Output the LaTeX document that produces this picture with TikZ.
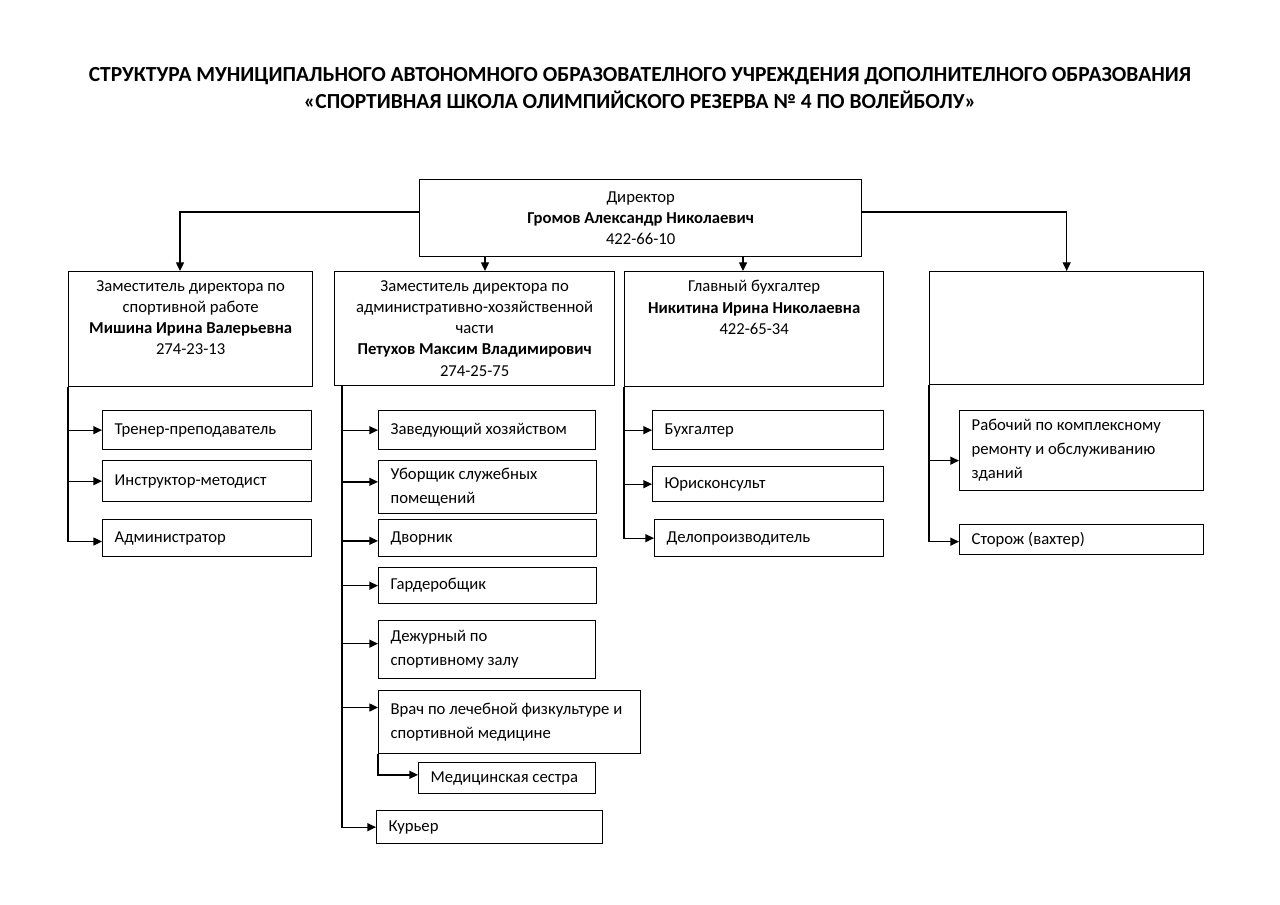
\documentclass[tikz,border=0pt]{standalone}
\usepackage{fontspec}
\setmainfont{Carlito}
\usetikzlibrary{arrows.meta}
\tikzset{
    every node/.style={font=\fontsize{12.5}{15.5}\selectfont}
}
\tikzset{
    headbox/.style={draw, line width=1pt, anchor=north west, inner sep=0pt},
    headtext/.style={anchor=north, align=center, inner sep=0pt, yshift=-7pt,
        font=\fontsize{12.5}{15.9}\selectfont},
    staffbox/.style={draw, line width=1pt, anchor=north west, align=flush left,
        inner xsep=9pt, inner ysep=0pt,
        font=\fontsize{12.5}{18}\selectfont},
    arr/.style={line width=1pt, -{Triangle[length=6.5pt,width=6pt]}}
}

\begin{document}
\begin{tikzpicture}[x=0.75pt, y=-0.75pt]
  \useasboundingbox (0,0) rectangle (1280,905);

  \node (title) [align=center, font=\fontsize{16.1}{20.3}\selectfont\bfseries] at (640, 88)
    {СТРУКТУРА МУНИЦИПАЛЬНОГО АВТОНОМНОГО ОБРАЗОВАТЕЛНОГО УЧРЕЖДЕНИЯ ДОПОЛНИТЕЛНОГО ОБРАЗОВАНИЯ\\
     «СПОРТИВНАЯ ШКОЛА ОЛИМПИЙСКОГО РЕЗЕРВА № 4 ПО ВОЛЕЙБОЛУ»};

  % director and deputies
  \node (dir) [draw, line width=1pt, anchor=north west, align=center,
    minimum width=331.5pt, minimum height=57.75pt] at (419, 179)
    {Директор\\\textbf{Громов Александр Николаевич}\\422-66-10};
  \node (zam1) [headbox, minimum width=183pt, minimum height=86.25pt,
    label={[headtext]north:{Заместитель директора по\\спортивной работе\\
    \textbf{Мишина Ирина Валерьевна}\\274-23-13}}] at (68, 271) {};
  \node (zam2) [headbox, minimum width=210pt, minimum height=85.5pt,
    label={[headtext]north:{Заместитель директора по\\административно-хозяйственной\\
    части\\\textbf{Петухов Максим Владимирович}\\274-25-75}}] at (334, 271) {};
  \node (zam3) [headbox, minimum width=194.25pt, minimum height=86.25pt,
    label={[headtext]north:{Главный бухгалтер\\
    \textbf{Никитина Ирина Николаевна}\\422-65-34}}] at (624, 271) {};
  \node (zam4) [headbox, minimum width=205.5pt, minimum height=84.75pt] at (929, 271) {};

  % staff
  \node (trener) [staffbox, text width=138.75pt, minimum height=29.25pt] at (102, 410) {Тренер-преподаватель};
  \node (instr) [staffbox, text width=138.75pt, minimum height=30.75pt] at (102, 460) {Инструктор-методист};
  \node (admin) [staffbox, text width=138.75pt, minimum height=27.75pt] at (102, 519) {Администратор};

  \node (zavhoz) [staffbox, text width=144.75pt, minimum height=29.25pt] at (378, 410) {Заведующий хозяйством};
  \node (uborsh) [staffbox, text width=145.5pt, minimum height=39.75pt] at (378, 460) {Уборщик служебных\\помещений};
  \node (dvornik) [staffbox, text width=145.5pt, minimum height=27.75pt] at (378, 519) {Дворник};
  \node (garderob) [staffbox, text width=145.5pt, minimum height=27pt] at (378, 567) {Гардеробщик};
  \node (dezhur) [staffbox, text width=144.75pt, minimum height=43.5pt] at (378, 620) {Дежурный по\\спортивному залу};
  \node (vrach) [staffbox, text width=178.5pt, minimum height=47.25pt] at (378, 690) {Врач по лечебной физкультуре и\\спортивной медицине};
  \node (medsestra) [staffbox, text width=114.75pt, minimum height=23.25pt] at (418, 762) {Медицинская сестра};
  \node (kurier) [staffbox, text width=151.5pt, minimum height=24.75pt] at (376, 810) {Курьер};

  \node (buh) [staffbox, text width=155.25pt, minimum height=29.25pt] at (652, 410) {Бухгалтер};
  \node (yurist) [staffbox, text width=155.25pt, minimum height=26.25pt] at (652, 466) {Юрисконсульт};
  \node (delo) [staffbox, text width=153.75pt, minimum height=27.75pt] at (654, 519) {Делопроизводитель};

  \node (rabochiy) [staffbox, text width=165pt, minimum height=60pt] at (959, 410) {Рабочий по комплексному\\ремонту и обслуживанию\\зданий};
  \node (storozh) [staffbox, text width=165pt, minimum height=22.5pt] at (959, 524) {Сторож (вахтер)};

  % director links
  \draw[arr] (dir.west |- 0,212) -| (180,0 |- zam1.north);
  \draw[arr] (dir.east |- 0,212) -| (zam4.north);
  \draw[arr] (485,0 |- dir.south) -- (485,0 |- zam2.north);
  \draw[arr] (743,0 |- dir.south) -- (743,0 |- zam3.north);

  % staff links
  \draw[arr] (zam1.south west) |- (trener.west);
  \draw[arr] (zam1.south west) |- (instr.west);
  \draw[arr] (zam1.south west) |- ([yshift=-2.5pt]admin.west);

  \draw[arr] (342,0 |- zam2.south) |- (zavhoz.west);
  \draw[arr] (342,0 |- zam2.south) |- ([yshift=4pt]uborsh.west);
  \draw[arr] (342,0 |- zam2.south) |- ([yshift=-2pt]dvornik.west);
  \draw[arr] (342,0 |- zam2.south) |- (garderob.west);
  \draw[arr] (342,0 |- zam2.south) |- ([yshift=4.5pt]dezhur.west);
  \draw[arr] (342,0 |- zam2.south) |- ([yshift=11pt]vrach.west);
  \draw[arr] (vrach.south west) |- ([yshift=2.5pt]medsestra.west);
  \draw[arr] (342,0 |- zam2.south) |- (kurier.west);

  \draw[arr] (zam3.south west) |- (buh.west);
  \draw[arr] (zam3.south west) |- (yurist.west);
  \draw[arr] (zam3.south west) |- (delo.west);

  \draw[arr] (zam4.south west) |- ([yshift=-7.5pt]rabochiy.west);
  \draw[arr] (zam4.south west) |- ([yshift=-1.5pt]storozh.west);
\end{tikzpicture}
\end{document}
